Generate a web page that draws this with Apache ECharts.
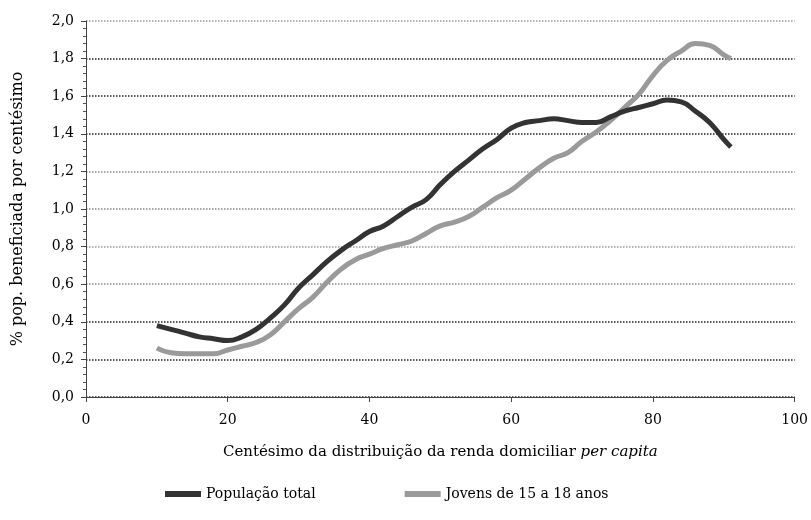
<!DOCTYPE html>
<html>
<head>
<meta charset="utf-8">
<script src="https://cdn.jsdelivr.net/npm/echarts@6/dist/echarts.min.js"></script>
<style>
  html, body { margin: 0; padding: 0; background: #fff; }
  #chart { width: 811px; height: 520px; }
</style>
</head>
<body>
<div id="chart"></div>
<script>
// centésimos (eixo x)
const centesimos = [10, 12, 14, 16, 18, 20, 22, 24, 26, 28, 30, 32, 34, 36, 38, 40,
  42, 44, 46, 48, 50, 52, 54, 56, 58, 60, 62, 64, 66, 68, 70, 72, 74, 76, 78, 80,
  82, 84, 86, 88, 90, 91]

const populacaoTotal = [0.38, 0.36, 0.34, 0.32, 0.31, 0.30, 0.32, 0.36, 0.42, 0.49,
  0.58, 0.65, 0.72, 0.78, 0.83, 0.88, 0.91, 0.96, 1.01, 1.05, 1.13, 1.20, 1.26,
  1.32, 1.37, 1.43, 1.46, 1.47, 1.48, 1.47, 1.46, 1.46, 1.49, 1.52, 1.54, 1.56,
  1.58, 1.57, 1.52, 1.46, 1.37, 1.33]

const jovens = [0.26, 0.235, 0.23, 0.23, 0.23, 0.25, 0.27, 0.29, 0.33, 0.40, 0.47,
  0.53, 0.61, 0.68, 0.73, 0.76, 0.79, 0.81, 0.83, 0.87, 0.91, 0.93, 0.96, 1.01,
  1.06, 1.10, 1.16, 1.22, 1.27, 1.30, 1.36, 1.41, 1.47, 1.54, 1.61, 1.71, 1.79,
  1.84, 1.88, 1.87, 1.82, 1.80]

const seriesNames = ['População total', 'Jovens de 15 a 18 anos']

const font = '"DejaVu Serif", "Liberation Serif", serif'
const zip = (xs, ys) => xs.map((x, i) => [x, ys[i]])

const chart = echarts.init(document.getElementById('chart'))
chart.setOption({
  animation: false,
  textStyle: { fontFamily: font, color: '#000' },
  grid: { left: 86, right: 14, top: 21, bottom: 123 },
  legend: {
    bottom: 14,
    left: 160,
    itemWidth: 36,
    itemHeight: 6,
    itemGap: 89,
    icon: 'rect',
    textStyle: { fontFamily: font, fontSize: 14, color: '#000' },
    data: seriesNames
  },
  xAxis: {
    type: 'value',
    min: 0,
    max: 100,
    interval: 20,
    name: '{n|Centésimo da distribuição da renda domiciliar }{i|per capita}',
    nameLocation: 'middle',
    nameGap: 48,
    nameTextStyle: {
      rich: {
        n: { fontFamily: font, fontSize: 15, color: '#000' },
        i: { fontFamily: font, fontSize: 15, fontStyle: 'italic', color: '#000' }
      }
    },
    axisLine: { onZero: false, lineStyle: { color: '#444', width: 1 } },
    axisTick: { length: 5, lineStyle: { color: '#444' } },
    axisLabel: { fontFamily: font, fontSize: 14, color: '#000', margin: 16 },
    splitLine: { show: false }
  },
  yAxis: {
    type: 'value',
    min: 0,
    max: 2,
    interval: 0.2,
    name: '% pop. beneficiada por centésimo',
    nameLocation: 'middle',
    nameGap: 60,
    nameTextStyle: { fontFamily: font, fontSize: 16, color: '#000' },
    axisLine: { show: true, lineStyle: { color: '#444', width: 1 } },
    axisTick: { length: 5, lineStyle: { color: '#444' } },
    minorTick: { show: true, splitNumber: 5, length: 3, lineStyle: { color: '#555' } },
    axisLabel: {
      fontFamily: font,
      fontSize: 14,
      color: '#000',
      margin: 12,
      formatter: v => v.toFixed(1).replace('.', ',')
    },
    splitLine: {
      show: true,
      lineStyle: {
        type: 'dotted',
        width: 1.5,
        color: ['#222', '#222', '#222', '#888', '#999', '#888', '#888', '#222', '#222', '#222', '#999']
      }
    }
  },
  series: [
    {
      name: seriesNames[0],
      type: 'line',
      smooth: true,
      showSymbol: false,
      data: zip(centesimos, populacaoTotal),
      itemStyle: { color: '#333' },
      lineStyle: { color: '#333', width: 5 },
      z: 3
    },
    {
      name: seriesNames[1],
      type: 'line',
      smooth: true,
      showSymbol: false,
      data: zip(centesimos, jovens),
      itemStyle: { color: '#9a9a9a' },
      lineStyle: { color: '#9a9a9a', width: 5 },
      z: 2
    }
  ]
})
</script>
</body>
</html>
